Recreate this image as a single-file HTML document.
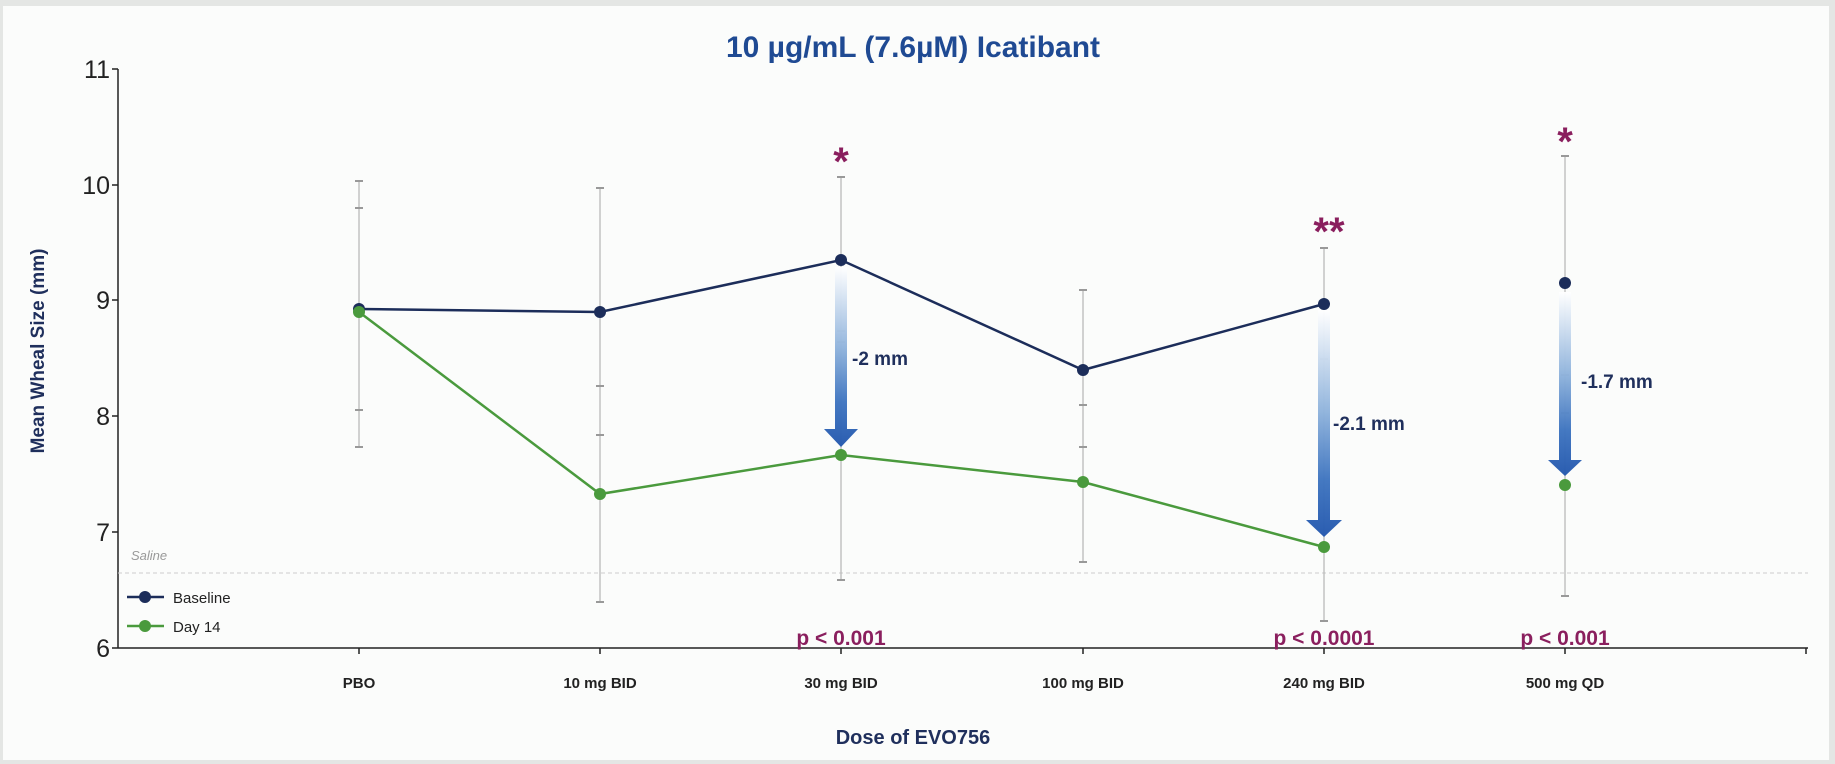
<!DOCTYPE html>
<html><head><meta charset="utf-8"><style>
html,body{margin:0;padding:0;background:#fff;}
svg{display:block;font-family:"Liberation Sans",Arial,sans-serif;}
</style></head><body>
<svg width="1835" height="764" viewBox="0 0 1835 764" xmlns="http://www.w3.org/2000/svg">
<defs>
<linearGradient id="g" x1="0" y1="0" x2="0" y2="1">
<stop offset="0" stop-color="#ffffff"/>
<stop offset="0.45" stop-color="#8fb3dc"/>
<stop offset="0.75" stop-color="#3f75c0"/>
<stop offset="1" stop-color="#2458ae"/>
</linearGradient>
</defs>
<rect x="0" y="0" width="1835" height="764" fill="#e4e6e4"/>
<rect x="3" y="6" width="1826" height="754" fill="#fbfcfb"/>
<text x="913" y="57" text-anchor="middle" font-size="30" font-weight="bold" fill="#1f4a93">10 µg/mL (7.6µM) Icatibant</text>
<line x1="118" y1="69" x2="118" y2="648" stroke="#222" stroke-width="1.5"/>
<line x1="118" y1="648" x2="1808" y2="648" stroke="#222" stroke-width="1.5"/>
<g stroke="#222" stroke-width="1.5">
<line x1="112" y1="69" x2="118" y2="69"/><line x1="112" y1="185" x2="118" y2="185"/><line x1="112" y1="300" x2="118" y2="300"/><line x1="112" y1="416" x2="118" y2="416"/><line x1="112" y1="532" x2="118" y2="532"/><line x1="112" y1="648" x2="118" y2="648"/>
<line x1="359" y1="648" x2="359" y2="654"/><line x1="600" y1="648" x2="600" y2="654"/><line x1="841" y1="648" x2="841" y2="654"/><line x1="1083" y1="648" x2="1083" y2="654"/><line x1="1324" y1="648" x2="1324" y2="654"/><line x1="1565" y1="648" x2="1565" y2="654"/><line x1="1806" y1="648" x2="1806" y2="654"/>
</g>
<g font-size="25" fill="#222" text-anchor="end">
<text x="110" y="78">11</text><text x="110" y="194">10</text><text x="110" y="309">9</text><text x="110" y="425">8</text><text x="110" y="541">7</text><text x="110" y="657">6</text>
</g>
<text transform="translate(44,351) rotate(-90)" text-anchor="middle" font-size="19" font-weight="bold" fill="#1f2f5c">Mean Wheal Size (mm)</text>
<g font-size="15" font-weight="bold" fill="#222" text-anchor="middle">
<text x="359" y="688">PBO</text><text x="600" y="688">10 mg BID</text><text x="841" y="688">30 mg BID</text><text x="1083" y="688">100 mg BID</text><text x="1324" y="688">240 mg BID</text><text x="1565" y="688">500 mg  QD</text>
</g>
<text x="913" y="744" text-anchor="middle" font-size="20" font-weight="bold" fill="#1f2f5c">Dose of EVO756</text>
<line x1="118" y1="573" x2="1808" y2="573" stroke="#ccc" stroke-width="1" stroke-dasharray="4,3"/>
<text x="131" y="560" font-size="13" font-style="italic" fill="#999">Saline</text>
<g stroke="#b5b5b5" stroke-width="1.2">
<line x1="359" y1="181" x2="359" y2="447"/>
<line x1="600" y1="188" x2="600" y2="602"/>
<line x1="841" y1="177" x2="841" y2="580"/>
<line x1="1083" y1="290" x2="1083" y2="562"/>
<line x1="1324" y1="248" x2="1324" y2="621"/>
<line x1="1565" y1="156" x2="1565" y2="596"/>
</g>
<g stroke="#999" stroke-width="2">
<line x1="355" y1="181" x2="363" y2="181"/><line x1="355" y1="208" x2="363" y2="208"/><line x1="355" y1="410" x2="363" y2="410"/><line x1="355" y1="447" x2="363" y2="447"/>
<line x1="596" y1="188" x2="604" y2="188"/><line x1="596" y1="386" x2="604" y2="386"/><line x1="596" y1="435" x2="604" y2="435"/><line x1="596" y1="602" x2="604" y2="602"/>
<line x1="837" y1="177" x2="845" y2="177"/><line x1="837" y1="331" x2="845" y2="331"/><line x1="837" y1="342" x2="845" y2="342"/><line x1="837" y1="580" x2="845" y2="580"/>
<line x1="1079" y1="290" x2="1087" y2="290"/><line x1="1079" y1="405" x2="1087" y2="405"/><line x1="1079" y1="447" x2="1087" y2="447"/><line x1="1079" y1="562" x2="1087" y2="562"/>
<line x1="1320" y1="248" x2="1328" y2="248"/><line x1="1320" y1="359" x2="1328" y2="359"/><line x1="1320" y1="621" x2="1328" y2="621"/>
<line x1="1561" y1="156" x2="1569" y2="156"/><line x1="1561" y1="375" x2="1569" y2="375"/><line x1="1561" y1="413" x2="1569" y2="413"/><line x1="1561" y1="596" x2="1569" y2="596"/>
</g>
<g fill="url(#g)" opacity="0.97">
<path d="M835,267 H847 V429 H858 L841,447 L824,429 H835 Z"/>
<path d="M1318,310 H1330 V520 H1342 L1324,537 L1306,520 H1318 Z"/>
<path d="M1559,292 H1571 V460 H1582 L1565,476 L1548,460 H1559 Z"/>
</g>
<g font-size="19" font-weight="bold" fill="#1f2f5c">
<text x="852" y="365">-2 mm</text><text x="1333" y="430">-2.1 mm</text><text x="1581" y="388">-1.7 mm</text>
</g>
<polyline points="359,312 600,494 841,455 1083,482 1324,547" fill="none" stroke="#4a9a3d" stroke-width="2.5"/>
<polyline points="359,309 600,312 841,260 1083,370 1324,304" fill="none" stroke="#1c2d5a" stroke-width="2.5"/>
<g fill="#1c2d5a">
<circle cx="359" cy="309" r="6"/><circle cx="600" cy="312" r="6"/><circle cx="841" cy="260" r="6"/><circle cx="1083" cy="370" r="6"/><circle cx="1324" cy="304" r="6"/><circle cx="1565" cy="283" r="6"/>
</g>
<g fill="#4a9a3d">
<circle cx="359" cy="312" r="6"/><circle cx="600" cy="494" r="6"/><circle cx="841" cy="455" r="6"/><circle cx="1083" cy="482" r="6"/><circle cx="1324" cy="547" r="6"/><circle cx="1565" cy="485" r="6"/>
</g>
<g fill="#8a1f5e" font-weight="bold" text-anchor="middle">
<text x="841" y="175" font-size="40">*</text>
<text x="1329" y="245" font-size="40">**</text>
<text x="1565" y="155" font-size="40">*</text>
<text x="841" y="645" font-size="21">p &lt; 0.001</text>
<text x="1324" y="645" font-size="21">p &lt; 0.0001</text>
<text x="1565" y="645" font-size="21">p &lt; 0.001</text>
</g>
<line x1="127" y1="597" x2="164" y2="597" stroke="#1c2d5a" stroke-width="2.5"/><circle cx="145" cy="597" r="6" fill="#1c2d5a"/>
<text x="173" y="603" font-size="15" fill="#222">Baseline</text>
<line x1="127" y1="626" x2="164" y2="626" stroke="#4a9a3d" stroke-width="2.5"/><circle cx="145" cy="626" r="6" fill="#4a9a3d"/>
<text x="173" y="632" font-size="15" fill="#222">Day 14</text>
</svg>
</body></html>
